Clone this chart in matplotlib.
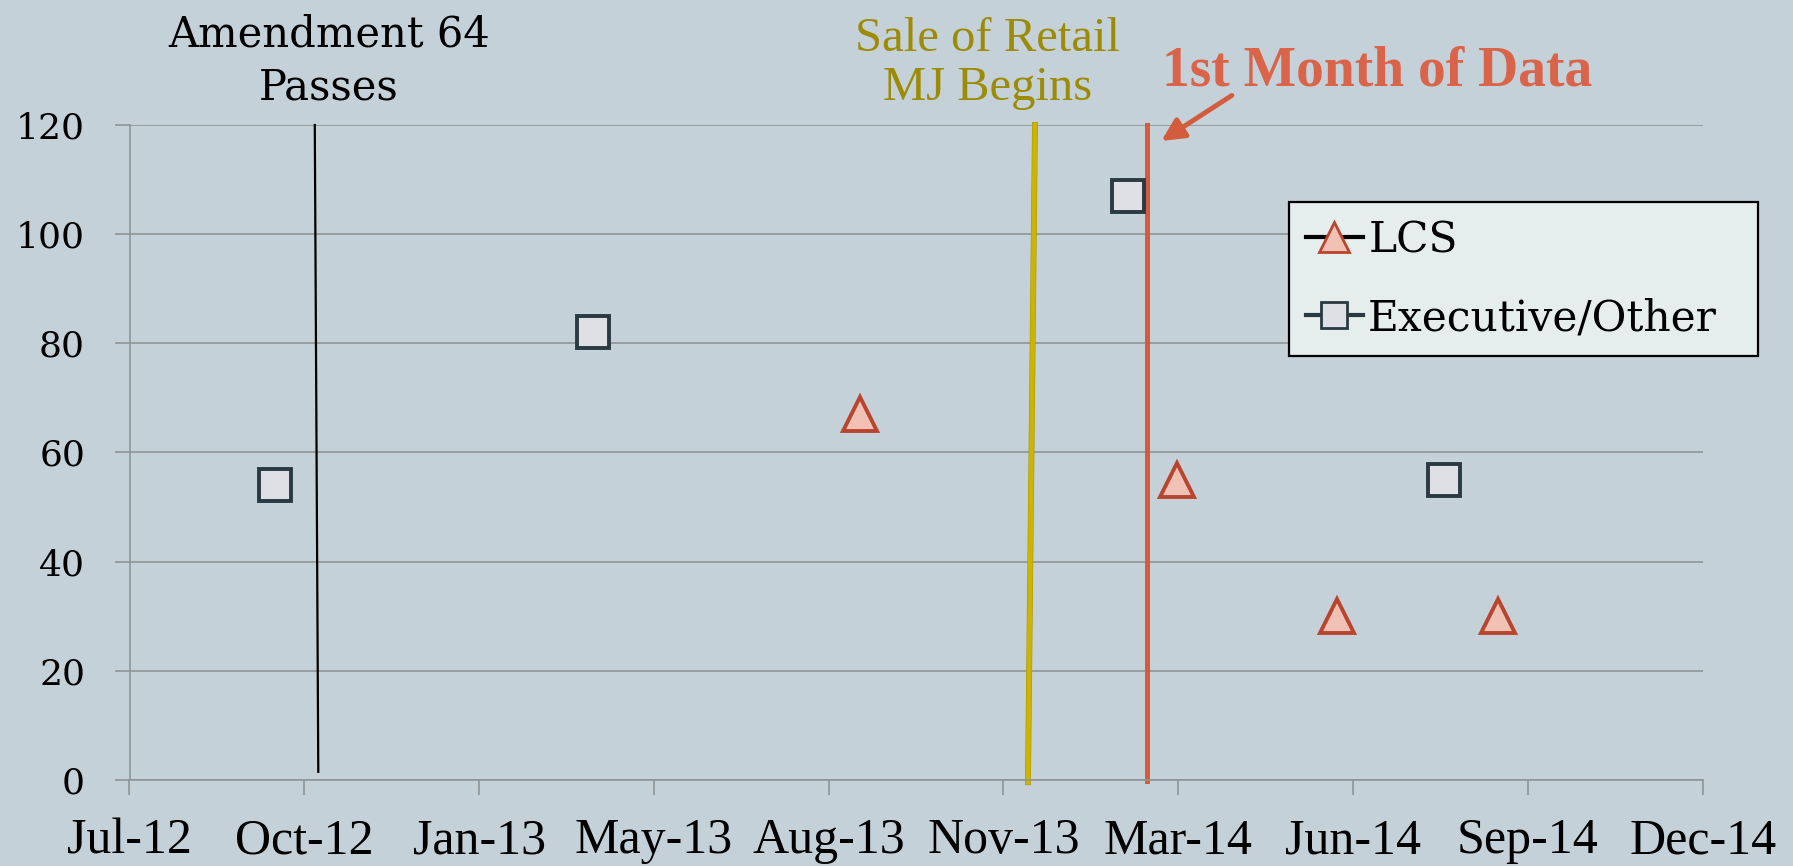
import numpy as np
import pandas as pd
import matplotlib
matplotlib.use('Agg')
import matplotlib.pyplot as plt
import matplotlib.dates as mdates
import matplotlib.patheffects as pe
from matplotlib.lines import Line2D

# ---- data ----
lcs_dates = ['2013-09-01', '2014-03-01', '2014-06-01', '2014-09-01']
lcs_vals = [67, 55, 30, 30]

exec_dates = ['2012-10-01', '2013-04-01', '2014-02-01', '2014-08-01']
exec_vals = [54, 82, 107, 55]

series_labels = ['LCS', 'Executive/Other']

# Excel style date axis: 41100 .. 42000, major unit 100 days
axis_start = '2012-07-10'
axis_step_days = 100
axis_n_steps = 9
y_ticks = [0, 20, 40, 60, 80, 100, 120]

# hand drawn event lines: (top date, bottom date, bottom value)
amend_line = ('2012-10-24', '2012-10-26', 1.5)
retail_line = ('2013-12-10', '2013-12-06', -0.4)
data_line = ('2014-02-12', '2014-02-12', -0.2)

# text labels: (text, x date, baseline value of the last line)
amend_text = ('Amendment 64\nPasses', '2012-11-01', 124.6)
retail_text = ('Sale of Retail\nMJ Begins', '2013-11-13', 124.6)
data_text = ('1st Month of Data', '2014-06-24', 127.3)
arrow_tail = ('2014-04-03', 125.7)
arrow_tip = ('2014-02-19', 116.8)

# ---- style ----
bg = '#C5D1D8'
grid_c = '#8E9498'
tri_face, tri_edge = '#F0C1B4', '#B9452E'
sq_face, sq_edge = '#DEE0E5', '#2A3A42'
yellow = '#CDB400'
olive = '#9C8B05'
red = '#D25C3C'
red_text = '#D9644A'

def dn(s):
    return mdates.date2num(pd.Timestamp(s))

W, H = 1793, 866
fig = plt.figure(figsize=(W / 100, H / 100), dpi=100, facecolor=bg)
ax = fig.add_axes([129.5 / W, (H - 780) / H, (1702.7 - 129.5) / W, (780 - 125) / H])
ax.set_facecolor(bg)

x0 = dn(axis_start)
xt = [x0 + axis_step_days * k for k in range(axis_n_steps + 1)]
ax.set_xlim(xt[0], xt[-1])
ax.set_ylim(0, 120)
ax.set_xticks(xt)
ax.xaxis.set_major_formatter(mdates.DateFormatter('%b-%y'))
ax.set_yticks(y_ticks)

for s in ['top', 'right']:
    ax.spines[s].set_visible(False)
for s in ['left', 'bottom']:
    ax.spines[s].set_color(grid_c)
    ax.spines[s].set_linewidth(1.2)

ax.yaxis.grid(True, color=grid_c, linewidth=1.2)
ax.set_axisbelow(True)
ax.tick_params(axis='x', direction='out', length=11, width=1.2, color=grid_c, pad=16)
ax.tick_params(axis='y', direction='out', length=11, width=1.2, color=grid_c, pad=21)
for lab in ax.get_xticklabels():
    lab.set_fontfamily('Liberation Serif')
    lab.set_fontsize(36)
for lab in ax.get_yticklabels():
    lab.set_fontfamily('DejaVu Serif')
    lab.set_fontsize(26)

# event lines
ax.plot([dn(amend_line[0]), dn(amend_line[1])], [120, amend_line[2]],
        color='black', lw=1.6, clip_on=False, zorder=2)
ax.plot([dn(retail_line[0]), dn(retail_line[1])], [120, retail_line[2]],
        color=yellow, lw=3.4, clip_on=False, zorder=2,
        path_effects=[pe.Stroke(linewidth=4.2, foreground='#A99600'), pe.Normal()])
ax.plot([dn(data_line[0]), dn(data_line[1])], [120, data_line[2]],
        color=red, lw=3.6, clip_on=False, zorder=2)

# data points
ax.plot(pd.to_datetime(exec_dates), exec_vals, linestyle='none', marker='s', ms=23,
        mfc=sq_face, mec=sq_edge, mew=2.8, zorder=3, clip_on=False)
ax.plot(pd.to_datetime(lcs_dates), lcs_vals, linestyle='none', marker='^', ms=24,
        mfc=tri_face, mec=tri_edge, mew=2.8, zorder=3, clip_on=False)

# annotation texts
ax.text(dn(amend_text[1]), amend_text[2], amend_text[0], ha='center', va='baseline',
        fontsize=30, family='DejaVu Serif', color='black', linespacing=1.35)
ax.text(dn(retail_text[1]), retail_text[2], retail_text[0], ha='center', va='baseline',
        fontsize=35, family='Liberation Serif', color=olive, linespacing=1.13)
ax.text(dn(data_text[1]), data_text[2], data_text[0], ha='center', va='baseline',
        fontsize=40, family='Liberation Serif', fontweight='bold', color=red_text)
ax.annotate('', xy=(dn(arrow_tip[0]), arrow_tip[1]), xytext=(dn(arrow_tail[0]), arrow_tail[1]),
            arrowprops=dict(arrowstyle='-|>', color=red, lw=3.5, mutation_scale=34),
            annotation_clip=False)

# legend
handles = [
    Line2D([], [], color='black', lw=3, marker='^', ms=21, mfc=tri_face, mec=tri_edge, mew=2),
    Line2D([], [], color=sq_edge, lw=3, marker='s', ms=19, mfc=sq_face, mec=sq_edge, mew=2),
]
leg = ax.legend(handles, series_labels, loc='upper left',
                bbox_to_anchor=(0.737, 0.644, 0.298, 0.238), mode='expand',
                borderaxespad=0, prop={'family': 'DejaVu Serif', 'size': 30.5},
                handlelength=1.35, handletextpad=0.12, labelspacing=0.85,
                borderpad=0.4, fancybox=False, framealpha=1)
leg.get_frame().set_facecolor('#E5EDED')
leg.get_frame().set_edgecolor('black')
leg.get_frame().set_linewidth(1.6)

fig.savefig('out.png', dpi=100, facecolor=bg)
